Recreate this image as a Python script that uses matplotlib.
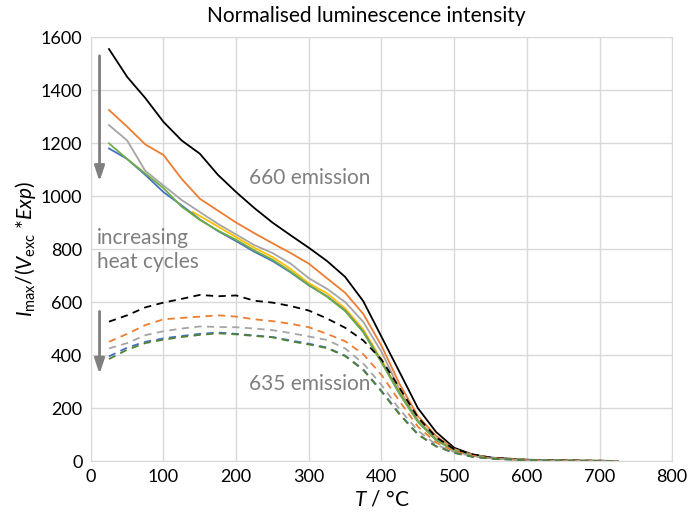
import numpy as np
import matplotlib.pyplot as plt

plt.rcParams['font.family'] = ['Lato', 'DejaVu Sans']
plt.rcParams['mathtext.fontset'] = 'custom'
plt.rcParams['mathtext.it'] = 'Lato:italic'
plt.rcParams['mathtext.rm'] = 'Lato'

T = [25, 50, 75, 100, 125, 150, 175, 200, 225, 250, 275, 300, 325, 350, 375,
     400, 425, 450, 475, 500, 525, 550, 600, 650, 700, 725]
T_yellow = [140] + T[5:]

# 660 emission (solid)
black_660 = [1555, 1450, 1370, 1280, 1210, 1160, 1080, 1015, 955, 900, 852, 805, 755, 695, 603,
             469, 335, 200, 110, 50, 25, 13, 5, 2, 1, 0]
orange_660 = [1325, 1262, 1195, 1155, 1065, 990, 945, 900, 860, 822, 785, 745, 690, 635, 555,
              435, 290, 170, 95, 45, 24, 12, 4, 2, 1, 0]
gray_660 = [1268, 1210, 1095, 1040, 985, 940, 895, 855, 815, 785, 745, 690, 650, 600, 525,
            412, 270, 155, 85, 42, 22, 11, 4, 1, 0, 0]
yellow_660 = [940, 925, 885, 845, 805, 770, 725, 671, 633, 576, 496,
              382, 260, 152, 82, 41, 21, 11, 4, 1, 0, 0]
blue_660 = [1180, 1140, 1080, 1015, 965, 912, 868, 830, 790, 755, 712, 663, 622, 568, 488,
            375, 255, 150, 80, 40, 21, 11, 4, 1, 0, 0]
green_660 = [1199, 1140, 1085, 1030, 960, 910, 870, 835, 795, 760, 715, 665, 620, 566, 486,
             372, 252, 148, 79, 40, 21, 11, 4, 1, 0, 0]

# 635 emission (dashed)
black_635 = [526, 550, 580, 598, 612, 627, 622, 625, 605, 598, 585, 568, 538, 503, 455,
             383, 275, 165, 90, 45, 25, 13, 4, 2, 1, 0]
orange_635 = [450, 480, 513, 535, 540, 545, 550, 545, 535, 528, 518, 505, 480, 452, 403,
              325, 225, 130, 70, 37, 20, 11, 4, 1, 0, 0]
gray_635 = [425, 445, 475, 490, 500, 508, 506, 505, 500, 494, 483, 470, 457, 425, 368,
            287, 195, 115, 62, 34, 18, 10, 3, 1, 0, 0]
blue_635 = [395, 428, 450, 463, 472, 480, 485, 480, 474, 468, 455, 443, 428, 398, 346,
            265, 178, 102, 56, 31, 16, 9, 3, 1, 0, 0]
green_635 = [385, 420, 445, 458, 468, 476, 482, 478, 472, 467, 452, 440, 426, 396, 343,
             262, 175, 100, 55, 31, 16, 9, 3, 1, 0, 0]

c_black, c_orange, c_gray = '#000000', '#ED7D31', '#A5A5A5'
c_yellow, c_blue, c_green = '#FFC000', '#4472C4', '#70AD47'

fig = plt.figure(figsize=(6.88, 5.23), dpi=100)
ax = fig.add_axes([0.132, 0.1185, 0.845, 0.8105])

lw = 1.3
ax.plot(T, black_660, color=c_black, lw=lw)
ax.plot(T, orange_660, color=c_orange, lw=lw)
ax.plot(T, gray_660, color=c_gray, lw=lw)
ax.plot(T_yellow, yellow_660, color=c_yellow, lw=lw)
ax.plot(T, blue_660, color=c_blue, lw=lw)
ax.plot(T, green_660, color=c_green, lw=lw)

dash = (0, (4, 3))
ax.plot(T, black_635, color=c_black, lw=lw, ls=dash)
ax.plot(T, orange_635, color=c_orange, lw=lw, ls=dash)
ax.plot(T, gray_635, color=c_gray, lw=lw, ls=dash)
ax.plot(T, blue_635, color=c_blue, lw=lw, ls=dash)
ax.plot(T, green_635, color='#548235', lw=lw, ls=dash)

ax.set_xlim(0, 800)
ax.set_ylim(0, 1600)
ax.set_xticks(np.arange(0, 801, 100))
ax.set_yticks(np.arange(0, 1601, 200))
ax.grid(True, color='#D9D9D9', lw=1)
ax.set_axisbelow(True)
for s in ax.spines.values():
    s.set_color('#D9D9D9')
ax.tick_params(length=0, labelsize=13, pad=6, colors='#000000')

fig.text(0.532, 0.969, 'Normalised luminescence intensity', fontsize=15,
         ha='center', va='center')
ax.set_xlabel(r'$T$ / °C', fontsize=15, labelpad=3)
ax.set_ylabel(r'$I_{\mathrm{max}}/(V_{\mathrm{exc}}$ *$Exp)$', fontsize=15, labelpad=2)

txt_c = '#7F7F7F'
ax.text(217, 1068, '660 emission', fontsize=15, color=txt_c, va='center')
ax.text(217, 290, '635 emission', fontsize=15, color=txt_c, va='center')
ax.text(8, 842, 'increasing', fontsize=15, color=txt_c, va='center')
ax.text(8, 750, 'heat cycles', fontsize=15, color=txt_c, va='center')

arr = dict(arrowstyle='-|>,head_width=0.3,head_length=0.9', color='#7F7F7F', lw=2)
ax.annotate('', xy=(12, 1045), xytext=(12, 1540), arrowprops=arr)
ax.annotate('', xy=(12, 318), xytext=(12, 575), arrowprops=arr)

fig.savefig('out.png', dpi=100)
